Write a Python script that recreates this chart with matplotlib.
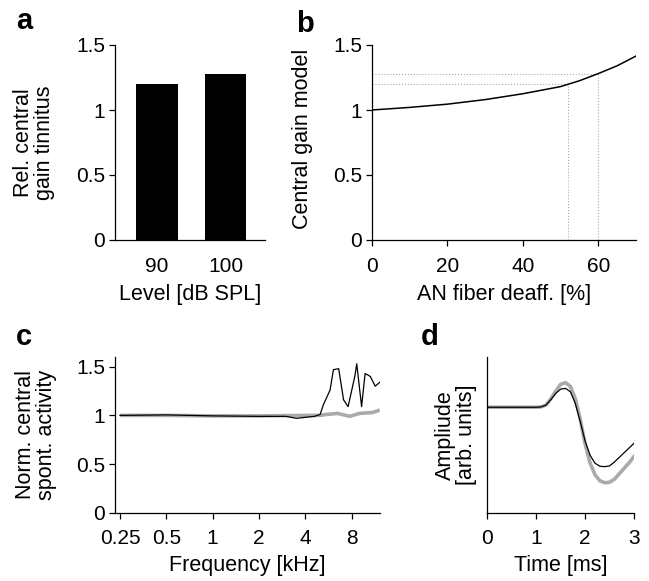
import numpy as np
from matplotlib import pyplot as plt

plt.rcParams['font.family'] = ['Liberation Sans', 'DejaVu Sans']
plt.rcParams['font.size'] = 15
plt.rcParams['axes.linewidth'] = 0.9

# panel a
levels = ['90', '100']
gain_tinnitus = [1.2, 1.28]

# panel b
deaff = [0, 10, 20, 30, 40, 50, 55, 60, 65, 70]
gain_model = [1.0, 1.02, 1.045, 1.08, 1.125, 1.18, 1.225, 1.28, 1.34, 1.415]
deaff_marks = [52, 60]
gain_marks = [1.2, 1.28]

# panel c
freq_black = [0.25, 0.5, 1.0, 2.0, 3.0, 3.5, 4.0, 4.6, 5.0, 5.25, 5.8, 6.1, 6.6, 7.1,
              7.6, 8.4, 8.65, 9.3, 9.8, 10.6, 11.4, 12.2]
act_black = [1.0, 1.005, 0.995, 0.99, 0.99, 0.97, 0.98, 0.99, 1.01, 1.11, 1.26, 1.47,
             1.48, 1.16, 1.09, 1.40, 1.53, 1.09, 1.43, 1.40, 1.30, 1.34]
freq_gray = [0.25, 0.5, 1.0, 2.0, 4.0, 5.0, 5.5, 6.5, 7.8, 9.0, 11.0, 12.2]
act_gray = [1.0, 1.0, 0.995, 0.995, 1.0, 1.0, 1.01, 1.02, 0.99, 1.02, 1.03, 1.055]

# panel d
time_ms = [0, 0.5, 1.0, 1.1, 1.2, 1.3, 1.4, 1.5, 1.6, 1.7, 1.8, 1.9, 2.0, 2.1, 2.2,
           2.3, 2.4, 2.5, 2.6, 2.7, 2.8, 2.9, 3.0]
amp_black = [0.676, 0.676, 0.676, 0.678, 0.69, 0.725, 0.765, 0.792, 0.797, 0.775, 0.70,
             0.585, 0.46, 0.37, 0.318, 0.298, 0.295, 0.30, 0.325, 0.355, 0.385, 0.415, 0.445]
amp_gray = [0.676, 0.676, 0.676, 0.678, 0.69, 0.73, 0.78, 0.823, 0.833, 0.81, 0.73,
            0.60, 0.44, 0.32, 0.245, 0.205, 0.192, 0.195, 0.215, 0.25, 0.285, 0.32, 0.36]

gray = '#aaaaaa'

fig = plt.figure(figsize=(6.49, 5.81), dpi=100)

W, H = 649.0, 581.0


def make_axes(left, right, top, bottom):
    ax = fig.add_axes([left / W, 1 - bottom / H, (right - left) / W, (bottom - top) / H])
    ax.spines['top'].set_visible(False)
    ax.spines['right'].set_visible(False)
    ax.tick_params(direction='out', length=4, width=0.9, pad=3)
    ax.tick_params(axis='x', pad=8)
    return ax


# a
ax = make_axes(115, 265, 45, 240)
ax.bar([0, 1], gain_tinnitus, width=0.6, color='black')
ax.set_xlim(-0.61, 1.57)
ax.set_ylim(0, 1.5)
ax.set_xticks([0, 1])
ax.set_xticklabels(levels)
ax.tick_params(axis='x', length=0, pad=12)
ax.set_yticks([0, 0.5, 1, 1.5])
ax.set_yticklabels(['0', '0.5', '1', '1.5'])
ax.set_xlabel('Level [dB SPL]', labelpad=6, fontsize=15.5)
ax.set_ylabel('Rel. central\ngain tinnitus', linespacing=1.0, fontsize=15.5)
ax.yaxis.set_label_coords(-0.40, 0.5)
fig.text(16 / W, 1 - 29 / H, 'a', fontsize=21, fontweight='bold')

# b
ax = make_axes(372, 636, 45, 240)
for d, g in zip(deaff_marks, gain_marks):
    ax.plot([0, d], [g, g], color=gray, lw=0.8, ls=':')
    ax.plot([d, d], [0, g], color=gray, lw=0.8, ls=':')
ax.plot(deaff, gain_model, color='black', lw=1.1)
ax.set_xlim(0, 70)
ax.set_ylim(0, 1.5)
ax.set_xticks([0, 20, 40, 60])
ax.set_yticks([0, 0.5, 1, 1.5])
ax.set_yticklabels(['0', '0.5', '1', '1.5'])
ax.set_xlabel('AN fiber deaff. [%]', labelpad=6, fontsize=15.5)
ax.set_ylabel('Central gain model', fontsize=15.5)
ax.yaxis.set_label_coords(-0.2235, 0.52)
fig.text(296 / W, 1 - 32 / H, 'b', fontsize=21, fontweight='bold')

# c
ax = make_axes(115, 380, 357, 512.7)
ax.plot(freq_gray, act_gray, color=gray, lw=2.6, solid_capstyle='butt')
ax.plot(freq_black, act_black, color='black', lw=0.9)
ax.set_xscale('log', base=2)
ax.set_xlim(0.232, 12.25)
ax.set_ylim(0, 1.6)
ax.set_xticks([0.25, 0.5, 1, 2, 4, 8])
ax.set_xticklabels(['0.25', '0.5', '1', '2', '4', '8'])
ax.minorticks_off()
ax.set_yticks([0, 0.5, 1, 1.5])
ax.set_yticklabels(['0', '0.5', '1', '1.5'])
ax.set_xlabel('Frequency [kHz]', labelpad=5, fontsize=15.5)
ax.set_ylabel('Norm. central\nspont. activity', linespacing=1.0, fontsize=15.5)
ax.yaxis.set_label_coords(-0.219, 0.5)
fig.text(16 / W, 1 - 345 / H, 'c', fontsize=21, fontweight='bold')

# d
ax = make_axes(487.3, 634, 356.7, 512.7)
ax.plot(time_ms, amp_gray, color=gray, lw=2.6)
ax.plot(time_ms, amp_black, color='black', lw=0.9)
ax.set_xlim(0, 3)
ax.set_ylim(0, 1)
ax.set_xticks([0, 1, 2, 3])
ax.set_yticks([])
ax.set_xlabel('Time [ms]', labelpad=5, fontsize=15.5)
ax.set_ylabel('Ampliude\n[arb. units]', linespacing=1.0, fontsize=15.5)
ax.yaxis.set_label_coords(-0.07, 0.5)
fig.text(421 / W, 1 - 345 / H, 'd', fontsize=21, fontweight='bold')

plt.savefig('out.png', dpi=100)
